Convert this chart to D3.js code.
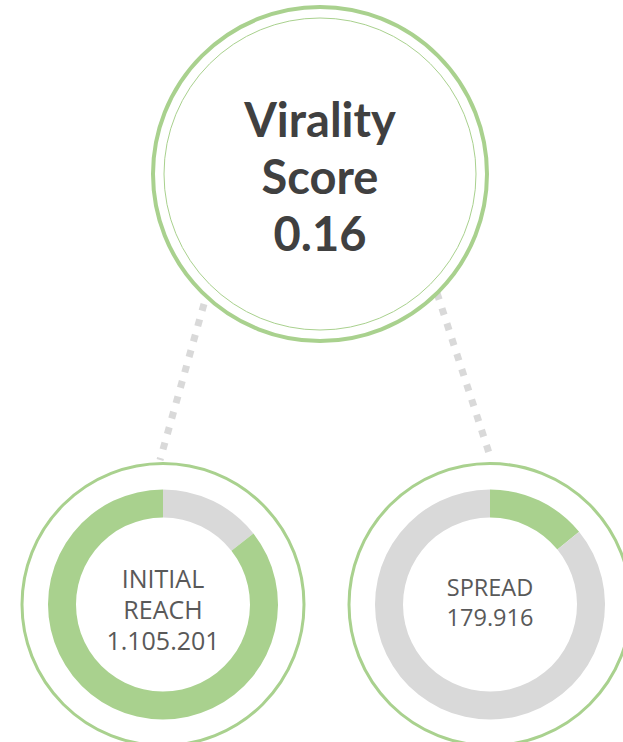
<!DOCTYPE html>
<html>
<head>
<meta charset="utf-8">
<script src="https://cdn.jsdelivr.net/npm/d3@7"></script>
<style>
  body { margin: 0; background: #fff; }
  svg { display: block; }
</style>
</head>
<body>
<div id="chart"></div>
<script>
// données
const scoreTitle = ['Virality', 'Score'];
const scoreValue = 0.16;

const nodeNames = ['reach', 'spread'];
const nodeLabels = [['INITIAL', 'REACH'], ['SPREAD']];
const nodeValues = [1105201, 179916];
// parts de chaque anneau, dans l'ordre horaire depuis midi
const ringShares = [[0.144, 0.856], [0.141, 0.859]];
const ringKinds = [['rest', 'main'], ['main', 'rest']];

const W = 623, H = 742;
const green = '#a9d18e', grey = '#d9d9d9', ink = '#404040', inkLight = '#595959';

const fmtNum = d3.formatLocale({ decimal: ',', thousands: '.', grouping: [3], currency: ['', ''] }).format(',d');
const fmtScore = d3.format('.2f');

const svg = d3.select('#chart').append('svg')
  .attr('width', W)
  .attr('height', H);

const hub = { x: 320, y: 174, r: 167, rIn: 156 };
const nodes = [
  { x: 163, y: 604.5, r: 141, fs: 25, lh: 31, first: -16.5 },
  { x: 490, y: 604.5, r: 141, fs: 23.5, lh: 29.5, first: -8.5 }
];

// pointillés entre le score et les deux cercles
const links = [
  { x1: 204, y1: 304, x2: 160, y2: 460 },
  { x1: 437, y1: 293, x2: 490, y2: 456 }
];
svg.append('g').selectAll('line')
  .data(links).join('line')
  .attr('x1', d => d.x1).attr('y1', d => d.y1)
  .attr('x2', d => d.x2).attr('y2', d => d.y2)
  .attr('stroke', grey)
  .attr('stroke-width', 7)
  .attr('stroke-dasharray', '7 9');

// cercle du haut
const tg = svg.append('g').attr('transform', `translate(${hub.x},${hub.y})`);
tg.append('circle').attr('r', hub.r).attr('fill', '#fff').attr('stroke', green).attr('stroke-width', 4);
tg.append('circle').attr('r', hub.rIn).attr('fill', 'none').attr('stroke', green).attr('stroke-width', 1);
tg.append('text')
  .attr('text-anchor', 'middle')
  .style('font-family', "Lato, 'Noto Sans', sans-serif")
  .style('font-weight', 700)
  .style('font-size', '47px')
  .attr('fill', ink)
  .selectAll('tspan')
  .data(scoreTitle.concat([fmtScore(scoreValue)])).join('tspan')
  .attr('x', 0)
  .attr('y', (d, i) => -37 + i * 57)
  .text(d => d);

// anneaux du bas
const pie = d3.pie().sort(null).value(d => d.v);
const arc = d3.arc().innerRadius(87).outerRadius(115);

const ng = svg.append('g').selectAll('g')
  .data(nodeNames).join('g')
  .attr('transform', (d, i) => `translate(${nodes[i].x},${nodes[i].y})`);

ng.append('circle')
  .attr('r', (d, i) => nodes[i].r)
  .attr('fill', '#fff')
  .attr('stroke', green)
  .attr('stroke-width', 3);

ng.selectAll('path')
  .data((d, i) => pie(ringShares[i].map((v, k) => ({ v, kind: ringKinds[i][k] }))))
  .join('path')
  .attr('d', arc)
  .attr('fill', d => d.data.kind === 'main' ? green : grey);

ng.each(function(d, i) {
  const lines = nodeLabels[i].concat([fmtNum(nodeValues[i])]);
  d3.select(this).append('text')
    .attr('text-anchor', 'middle')
    .style('font-family', "'Open Sans', sans-serif")
    .style('font-size', nodes[i].fs + 'px')
    .attr('fill', inkLight)
    .selectAll('tspan')
    .data(lines).join('tspan')
    .attr('x', 0)
    .attr('y', (t, k) => nodes[i].first + k * nodes[i].lh)
    .text(t => t);
});
</script>
</body>
</html>
